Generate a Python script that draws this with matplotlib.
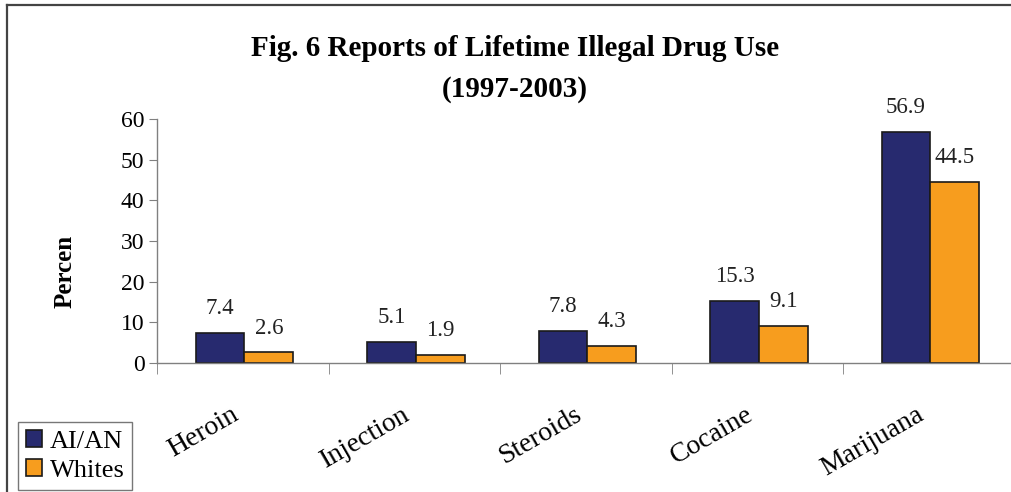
import matplotlib.pyplot as plt
import numpy as np
from matplotlib.lines import Line2D

# data
categories = ["Heroin", "Injection", "Steroids", "Cocaine", "Marijuana"]
aian = [7.4, 5.1, 7.8, 15.3, 56.9]
whites = [2.6, 1.9, 4.3, 9.1, 44.5]
series_names = ["AI/AN", "Whites"]

plt.rcParams['font.family'] = ['Liberation Serif', 'DejaVu Serif']

W, H = 1012, 492
fig = plt.figure(figsize=(W / 100, H / 100), dpi=100)
# axes placed in pixel terms: x from 157 to ~1014, y from 363 (zero) to 119 (60)
ax = fig.add_axes([157 / W, (H - 363) / H, (1014.5 - 157) / W, (363 - 119) / H])

x = np.arange(len(categories))
bw = 0.285
blue = "#272a6f"
orange = "#f79d1e"
b1 = ax.bar(x - bw / 2 + 0.01, aian, bw, color=blue, edgecolor="#1a1a1a", linewidth=1.2, label=series_names[0])
b2 = ax.bar(x + bw / 2 + 0.01, whites, bw, color=orange, edgecolor="#1a1a1a", linewidth=1.2, label=series_names[1])

for bars, vals in [(b1, aian), (b2, whites)]:
    for r, v in zip(bars, vals):
        ax.annotate(f"{v:.1f}", (r.get_x() + r.get_width() / 2, r.get_height()),
                    xytext=(0, 10), textcoords="offset points",
                    ha="center", va="bottom", fontsize=16.5, color="#222222")

ax.set_xlim(-0.5, len(categories) - 0.5)
ax.set_ylim(0, 60)
ax.set_yticks(np.arange(0, 61, 10))
ax.tick_params(axis="y", labelsize=17, length=6, color="#808080", pad=3)

ax.set_xticks(x)
ax.set_xticklabels(categories, rotation=30, ha="right", va="top", fontsize=20)
ax.tick_params(axis="x", which="major", length=0, pad=28)
ax.set_xticks(np.arange(-0.5, len(categories), 1), minor=True)
ax.tick_params(axis="x", which="minor", length=8, color="#808080")

for s in ["top", "right"]:
    ax.spines[s].set_visible(False)
for s in ["left", "bottom"]:
    ax.spines[s].set_color("#808080")
    ax.spines[s].set_linewidth(1.0)

fig.text(65 / W, 1 - 271 / H, "Percen", rotation=90, ha="center", va="center",
         fontsize=18, fontweight="bold")

fig.text(515 / W, 1 - 48 / H, "Fig. 6 Reports of Lifetime Illegal Drug Use",
         ha="center", va="center", fontsize=21, fontweight="bold")
fig.text(515 / W, 1 - 90 / H, "(1997-2003)",
         ha="center", va="center", fontsize=21, fontweight="bold")

leg = fig.legend(handles=[b1, b2], loc="lower left",
                 bbox_to_anchor=(18 / W, 2 / H), fontsize=19,
                 frameon=True, fancybox=False, handlelength=0.6, handleheight=0.6,
                 handletextpad=0.3, borderpad=0.3, labelspacing=0.25, borderaxespad=0)
leg.get_frame().set_edgecolor("#555555")
leg.get_frame().set_linewidth(1.0)

# outer frame (left and top edges visible)
fig.add_artist(Line2D([7 / W, 7 / W], [0, 1 - 5 / H], transform=fig.transFigure, color="#444444", linewidth=1.6))
fig.add_artist(Line2D([7 / W, 1.01], [1 - 5 / H, 1 - 5 / H], transform=fig.transFigure, color="#444444", linewidth=1.6))

fig.savefig("out.png", dpi=100)
